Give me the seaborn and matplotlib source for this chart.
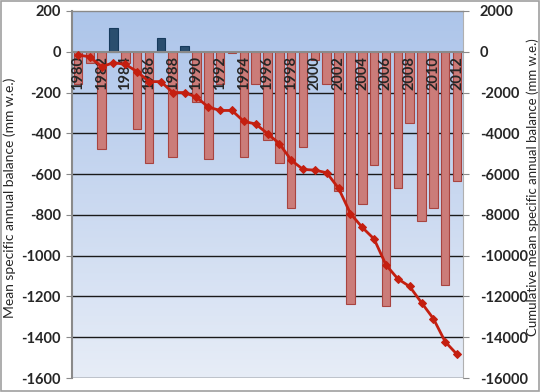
import numpy as np
import pandas as pd
import matplotlib
matplotlib.use("Agg")
import matplotlib.pyplot as plt
import seaborn as sns
from matplotlib.patches import Rectangle
from matplotlib.colors import LinearSegmentedColormap

years = list(range(1980, 2013))
annual_balance = [-160, -57, -476, 119, -55, -378, -545, 70, -517, 29,
                  -247, -525, -160, -8, -517, -159, -434, -545, -767, -467,
                  -40, -158, -683, -1236, -745, -556, -1249, -670, -349, -829,
                  -764, -1143, -634]
cumulative_balance = [-161, -244, -732, -537, -615, -976, -1463, -1463, -2000, -2000,
                      -2224, -2712, -2878, -2878, -3415, -3541, -4015, -4502, -5317, -5770,
                      -5805, -5934, -6698, -7932, -8615, -9185, -10454, -11137, -11512, -12307,
                      -13088, -14224, -14844]
left_ticks = list(range(-1600, 201, 200))
right_ticks = list(range(-16000, 2001, 2000))

sns.set_style("white")
plt.rcParams['font.family'] = ['Lato', 'DejaVu Sans']

df = pd.DataFrame({"year": [str(y) for y in years],
                   "balance": annual_balance,
                   "sign": ["pos" if v > 0 else "neg" for v in annual_balance]})

fig = plt.figure(figsize=(5.4, 3.92), dpi=100)
fig.patch.set_facecolor("white")
ax = fig.add_axes([72/540, 1-378/392, (463-72)/540, (378-11)/392])

# gradient background
grad = np.linspace(0, 1, 256).reshape(-1, 1)
cmap = LinearSegmentedColormap.from_list("bg", ["#adc5ea", "#c9d8f0", "#e7edf7"])
ax.imshow(grad, extent=[0, 1, 0, 1], transform=ax.transAxes, aspect="auto",
          cmap=cmap, zorder=0)
ax.patch.set_visible(False)

sns.barplot(data=df, x="year", y="balance", hue="sign",
            palette={"pos": "#1f4e79", "neg": "#d9706b"},
            dodge=False, legend=False, width=0.72, ax=ax, zorder=2)
for p in ax.patches:
    if p.get_height() > 0:
        p.set_edgecolor("#163a5c")
    else:
        p.set_edgecolor("#a84440")
    p.set_linewidth(0.8)

ax.set_xlim(-0.5, len(years) - 0.5)
ax.set_ylim(-1600, 200)
ax.set_yticks(left_ticks)
ax.set_yticklabels([str(t) for t in left_ticks], fontsize=10.5, fontweight="bold")
for y in left_ticks:
    if y not in (0, 200):
        ax.axhline(y, color="#1a1a1a", lw=1.0, zorder=1)

ax.spines["bottom"].set_position(("data", 0))
ax.spines["bottom"].set_color("#8a8a8a")
ax.spines["bottom"].set_linewidth(1.5)
ax.spines["bottom"].set_zorder(2.5)
ax.spines["left"].set_color("#8a8a8a")
ax.spines["left"].set_linewidth(1.5)
ax.spines["top"].set_color("#8a8a8a")
ax.spines["top"].set_linewidth(1.0)
ax.spines["right"].set_color("#b0b0b0")
ax.spines["right"].set_linewidth(0.8)

tick_pos = list(range(0, len(years), 2))
ax.set_xticks(tick_pos)
ax.set_xticklabels([str(years[i]) for i in tick_pos], rotation=90,
                   fontsize=10.5, fontweight="bold", va="top")
ax.xaxis.set_zorder(4)
ax.tick_params(axis="x", length=0, pad=3)
ax.tick_params(axis="y", length=4, color="#8a8a8a", direction="out", pad=4, left=True)
ax.set_xlabel("")
ax.set_ylabel("Mean specific annual balance (mm w.e.)", fontsize=10)
ax.yaxis.set_label_coords(-0.143, 0.49)

ax2 = ax.twinx()
sns.lineplot(x=np.arange(len(years)), y=cumulative_balance, ax=ax2,
             color="#c41f10", lw=2, marker="D", markersize=4.5,
             markeredgecolor="#c41f10", zorder=5)
ax2.set_ylim(-16000, 2000)
ax2.set_yticks(right_ticks)
ax2.set_yticklabels([str(t) for t in right_ticks], fontsize=10.5, fontweight="bold")
ax2.tick_params(axis="y", length=4, color="#8a8a8a", direction="out", pad=8)
ax2.set_ylabel("Cumulative mean specific annual balance (mm w.e.)", fontsize=9.5)
ax2.yaxis.set_label_coords(1.163, 0.52)
for s in ax2.spines.values():
    s.set_visible(False)
ax2.set_xlim(-0.5, len(years) - 0.5)

fig.patches.append(Rectangle((0.002, 0.003), 0.996, 0.994, transform=fig.transFigure,
                             fill=False, edgecolor="#a0a0a0", lw=1.2))

fig.savefig("out.png", dpi=100)
